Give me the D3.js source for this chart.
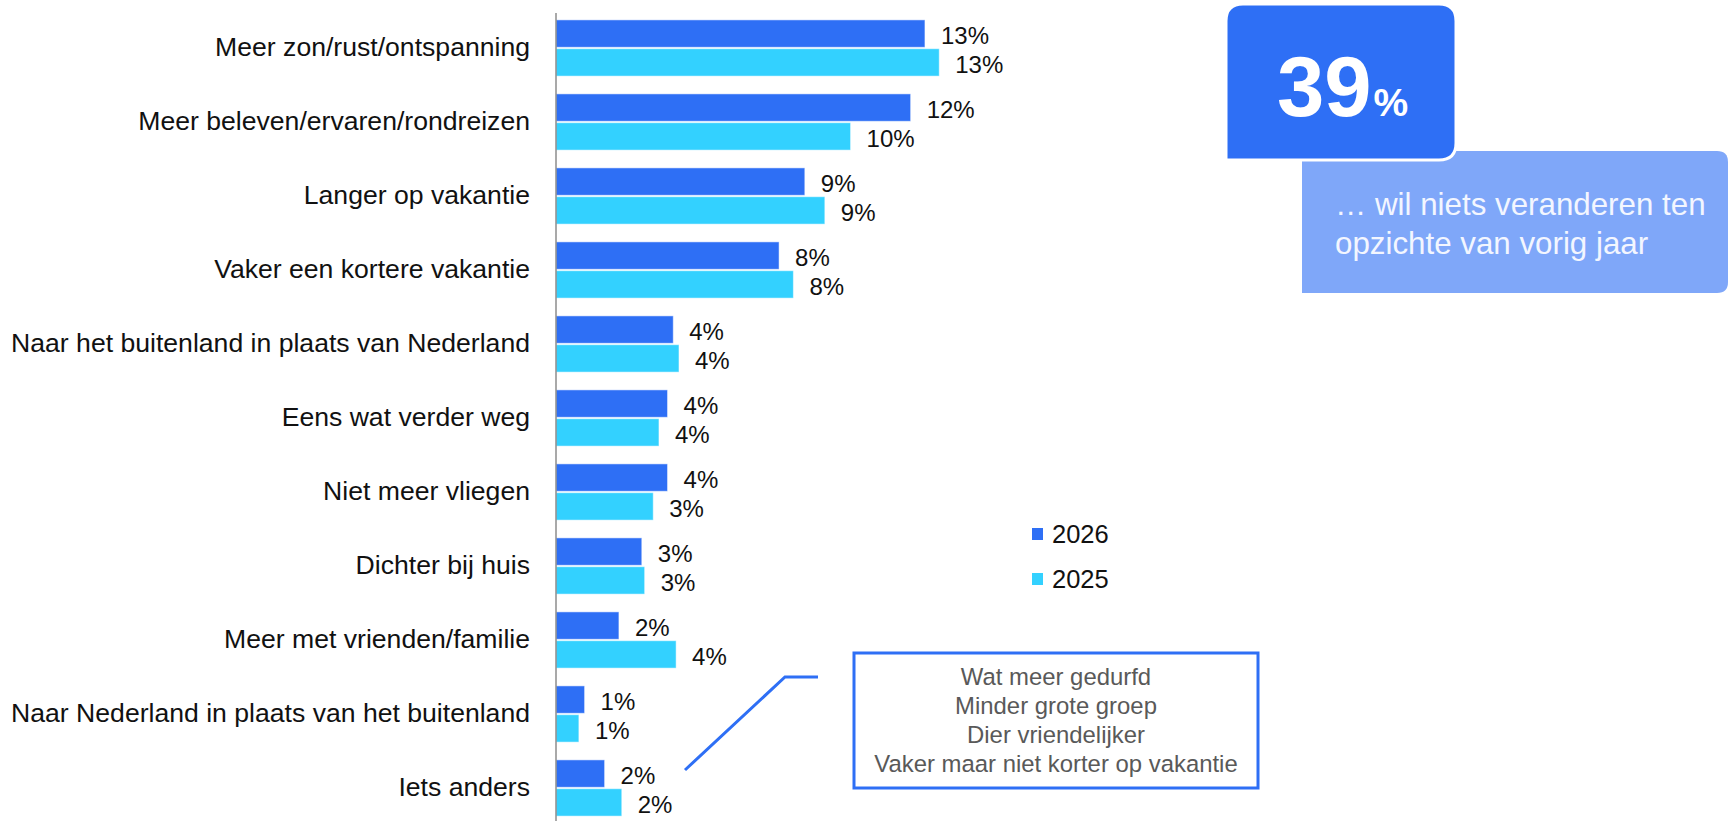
<!DOCTYPE html>
<html>
<head>
    <meta charset="utf-8">
    <title>Vakantie veranderingen</title>
    <script src="https://d3js.org/d3.v7.min.js"></script>
    <style>
        body { margin: 0; background: #fff; }
        text { font-family: "Liberation Sans", Arial, sans-serif; }
    </style>
</head>
<body>
    <svg width="1729" height="821"></svg>
    <script>
        // data (percentages)
        const categories = [
            "Meer zon/rust/ontspanning",
            "Meer beleven/ervaren/rondreizen",
            "Langer op vakantie",
            "Vaker een kortere vakantie",
            "Naar het buitenland in plaats van Nederland",
            "Eens wat verder weg",
            "Niet meer vliegen",
            "Dichter bij huis",
            "Meer met vrienden/familie",
            "Naar Nederland in plaats van het buitenland",
            "Iets anders"
        ];
        const seriesNames = ["2026", "2025"];
        const values2026 = [12.9, 12.4, 8.7, 7.8, 4.1, 3.9, 3.9, 3.0, 2.2, 1.0, 1.7];
        const values2025 = [13.4, 10.3, 9.4, 8.3, 4.3, 3.6, 3.4, 3.1, 4.2, 0.8, 2.3];
        const otherAnswers = ["Wat meer gedurfd", "Minder grote groep", "Dier vriendelijker", "Vaker maar niet korter op vakantie"];
        const noChangeValue = 39;
        const noChangeText = ["\u2026 wil niets veranderen ten", "opzichte van vorig jaar"];

        const svg = d3.select("svg"),
              width = +svg.attr("width"),
              height = +svg.attr("height");

        const colors = {"2026": "#2e6ff5", "2025": "#33d1ff"};
        const axisX = 556;

        const y = d3.scaleBand()
                    .domain(categories)
                    .range([11, 825])
                    .paddingInner(0.24)
                    .paddingOuter(0.12);
        const ySub = d3.scaleBand()
                       .domain(seriesNames)
                       .range([0, y.bandwidth()])
                       .paddingInner(0.05);
        const x = d3.scaleLinear()
                    .domain([0, 13])
                    .range([axisX, axisX + 13 * 28.6]);

        const rows = categories.map((c, i) => ({
            cat: c,
            vals: [{s: "2026", v: values2026[i]}, {s: "2025", v: values2025[i]}]
        }));

        // category labels
        svg.append("g")
           .selectAll("text")
           .data(categories)
           .enter().append("text")
           .attr("x", axisX - 26)
           .attr("y", d => y(d) + y.bandwidth() / 2 - 1)
           .attr("dy", "0.35em")
           .attr("text-anchor", "end")
           .attr("font-size", 26.6)
           .attr("fill", "#111")
           .text(d => d);

        // bars
        const groups = svg.selectAll(".grp")
            .data(rows)
            .enter().append("g")
            .attr("class", "grp")
            .attr("transform", d => `translate(0,${y(d.cat)})`);

        groups.selectAll("rect")
            .data(d => d.vals)
            .enter().append("rect")
            .attr("x", x(0))
            .attr("y", d => ySub(d.s))
            .attr("width", d => x(d.v) - x(0))
            .attr("height", ySub.bandwidth())
            .attr("fill", d => colors[d.s])
            .attr("stroke", "#ffffff")
            .attr("stroke-opacity", 0.5)
            .attr("stroke-width", 1);

        groups.selectAll("text")
            .data(d => d.vals)
            .enter().append("text")
            .attr("x", d => x(d.v) + 16)
            .attr("y", d => ySub(d.s) + ySub.bandwidth() / 2 + 2)
            .attr("dy", "0.35em")
            .attr("font-size", 24)
            .attr("fill", "#111")
            .text(d => Math.round(d.v) + "%");

        // vertical axis line
        svg.append("line")
           .attr("x1", axisX).attr("x2", axisX)
           .attr("y1", 13).attr("y2", height)
           .attr("stroke", "#8c8c8c")
           .attr("stroke-width", 1.5);

        // legend
        const legend = svg.selectAll(".legend")
            .data(seriesNames)
            .enter().append("g")
            .attr("class", "legend")
            .attr("transform", (d, i) => `translate(1032,${528 + i * 45})`);
        legend.append("rect")
            .attr("width", 11).attr("height", 12)
            .attr("fill", d => colors[d]);
        legend.append("text")
            .attr("x", 20).attr("y", 15)
            .attr("font-size", 25.5)
            .attr("fill", "#111")
            .text(d => d);

        // callout boxes top right
        const light = d3.path();
        light.moveTo(1302, 151);
        light.lineTo(1717, 151);
        light.quadraticCurveTo(1728, 151, 1728, 162);
        light.lineTo(1728, 282);
        light.quadraticCurveTo(1728, 293, 1717, 293);
        light.lineTo(1302, 293);
        light.closePath();
        svg.append("path").attr("d", light.toString()).attr("fill", "#7fa7f9");

        const dark = d3.path(), r = 17;
        dark.moveTo(1226, 4 + r);
        dark.quadraticCurveTo(1226, 4, 1226 + r, 4);
        dark.lineTo(1456 - r, 4);
        dark.quadraticCurveTo(1456, 4, 1456, 4 + r);
        dark.lineTo(1456, 160 - r);
        dark.quadraticCurveTo(1456, 160, 1456 - r, 160);
        dark.lineTo(1226, 160);
        dark.closePath();
        svg.append("path").attr("d", dark.toString())
           .attr("fill", "#2e6ff5")
           .attr("stroke", "#ffffff")
           .attr("stroke-width", 3);

        const big = svg.append("text")
           .attr("x", 1277).attr("y", 116)
           .attr("fill", "#fff")
           .attr("font-weight", "bold");
        big.append("tspan").attr("font-size", 85).text(noChangeValue);
        big.append("tspan").attr("font-size", 39).attr("dx", 2).text("%");

        svg.append("g")
           .selectAll("text")
           .data(noChangeText)
           .enter().append("text")
           .attr("x", 1335)
           .attr("y", (d, i) => 215 + i * 39)
           .attr("font-size", 31.3)
           .attr("fill", "#f3f6ff")
           .text(d => d);

        // "Iets anders" answers box and connector
        svg.append("path")
           .attr("d", d3.line()([[685, 770], [785, 677], [818, 677]]))
           .attr("fill", "none")
           .attr("stroke", "#2e6ff5")
           .attr("stroke-width", 3);

        svg.append("rect")
           .attr("x", 854).attr("y", 653)
           .attr("width", 404).attr("height", 135)
           .attr("fill", "#fff")
           .attr("stroke", "#2e6ff5")
           .attr("stroke-width", 3);

        svg.append("g")
           .selectAll("text")
           .data(otherAnswers)
           .enter().append("text")
           .attr("x", 1056)
           .attr("y", (d, i) => 685 + i * 29)
           .attr("text-anchor", "middle")
           .attr("font-size", 23.9)
           .attr("fill", "#595959")
           .text(d => d);
    </script>
</body>
</html>
